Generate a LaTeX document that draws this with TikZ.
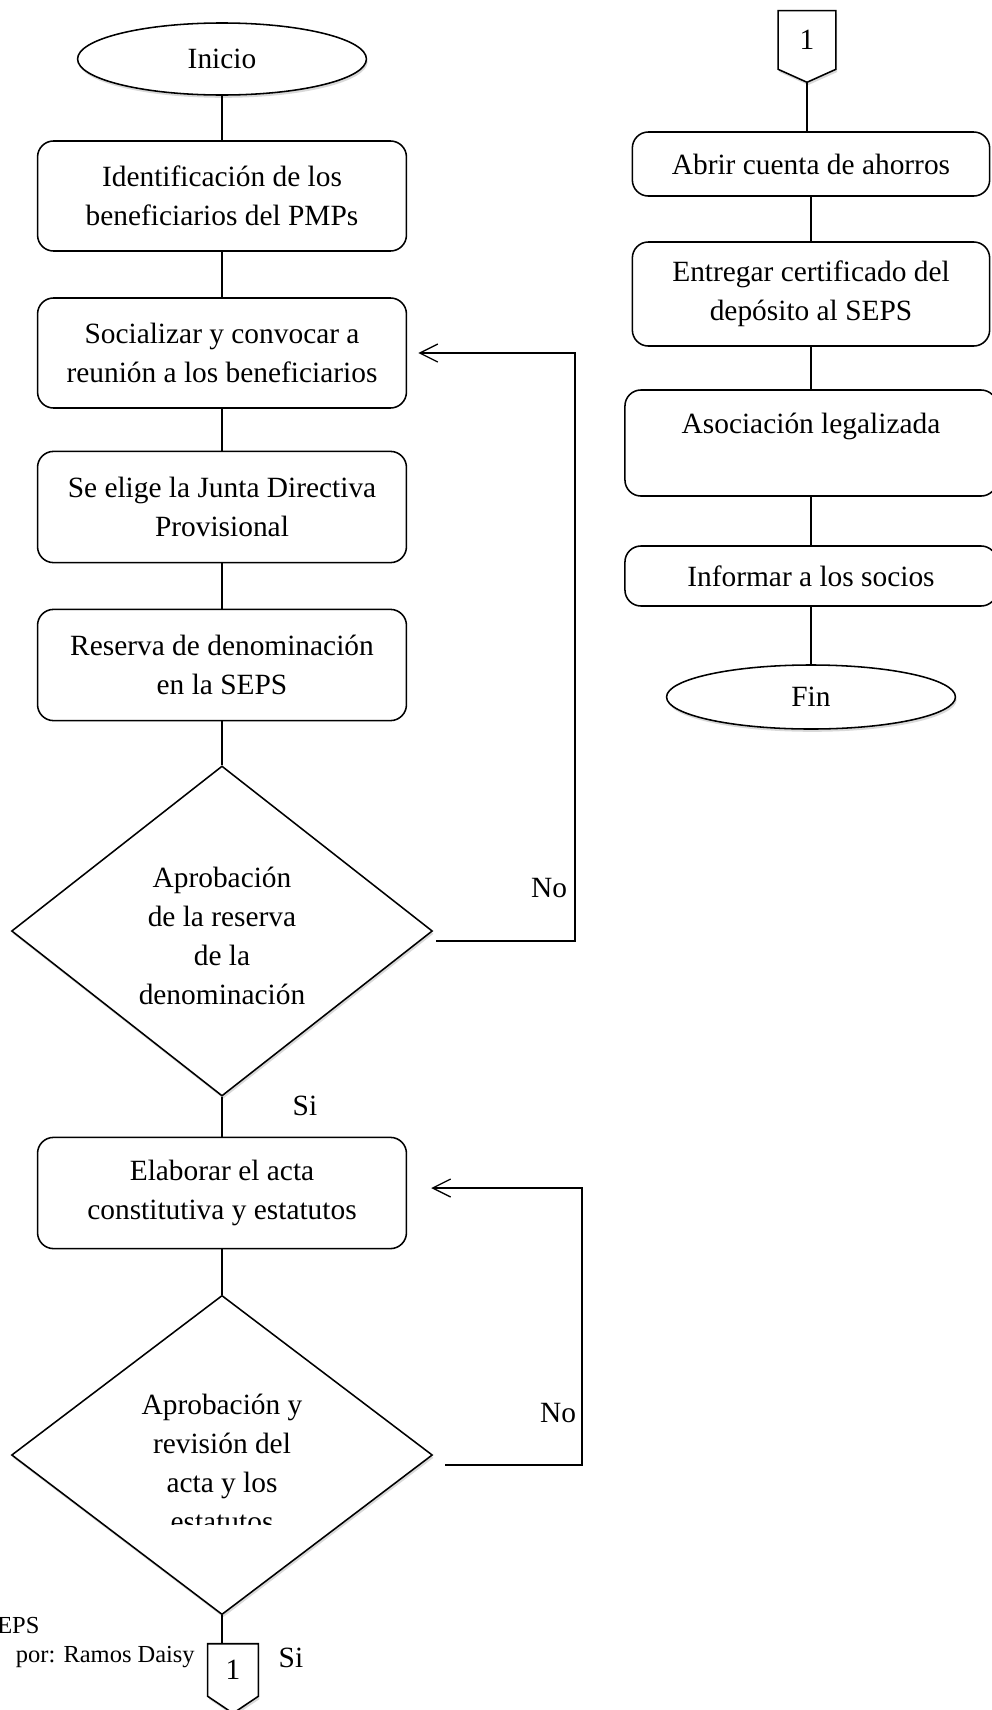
\documentclass[tikz,border=0pt]{standalone}
\usepackage{fontspec}
\setmainfont{Liberation Serif}
\usetikzlibrary{shapes.geometric,arrows.meta,shadows,calc}

\tikzset{
  sombra/.style={drop shadow={shadow xshift=0.03cm,shadow yshift=-0.07cm,opacity=0.3}},
  paso/.style={draw,rounded corners=0.4cm,line width=1.1pt,minimum width=9.22cm,align=center,inner sep=0},
  extremo/.style={draw,ellipse,line width=1.1pt,minimum width=7.22cm,minimum height=1.8cm,fill=white,sombra},
  decision/.style={draw,diamond,line width=1.1pt,minimum width=10.52cm,minimum height=8.25cm,fill=white,sombra},
  conector/.style={draw,line width=1.1pt,fill=white,sombra},
  linea/.style={line width=0.9pt},
  regreso/.style={line width=0.9pt,-{Straight Barb[length=0.45cm,width=0.45cm,line width=0.9pt]}},
  etiqueta/.style={inner sep=0}
}

\begin{document}
\begin{tikzpicture}[x=0.025cm,y=-0.025cm,font=\fontsize{20.9}{27.7}\selectfont]
\useasboundingbox (0,0) rectangle (992,1710);

% Columna izquierda
  \node[extremo] (ini) at (222,59) {Inicio};
  \node[paso,minimum height=2.75cm] (iden) at (222,196) {Identificación de los\\beneficiarios del PMPs};
  \node[paso,minimum height=2.75cm] (soc) at (222,353) {Socializar y convocar a\\reunión a los beneficiarios};
  \node[paso,minimum height=2.78cm] (jun) at (222,507) {Se elige la Junta Directiva\\Provisional};
  \node[paso,minimum height=2.78cm] (res) at (222,665) {Reserva de denominación\\en la SEPS};
  \node[decision] (apr1) at (222,931) {};
  \node[etiqueta,align=center] (apr1t) at (222,936) {Aprobación\\de la reserva\\de la\\denominación};
  \node[paso,minimum height=2.78cm] (ela) at (222,1193) {Elaborar el acta\\constitutiva y estatutos};
  \node[decision,minimum height=7.98cm] (apr2) at (222,1455) {};
  \begin{scope}
    \clip (0,1300) rectangle (992,1524);
    \node[etiqueta,align=center] (apr2t) at (222,1463) {Aprobación y\\revisión del\\acta y los\\estatutos};
  \end{scope}
  \node[etiqueta,minimum width=1.25cm,minimum height=1.3cm] (con1b) at (233,1670) {};
  \draw[conector] (con1b.north west) -- (con1b.north east) -- (con1b.south east)
        -- ($(con1b.south)+(0,17)$) -- (con1b.south west) -- cycle;
  \node[etiqueta] at (con1b) {1};

% Columna derecha
  \node[etiqueta,minimum width=1.43cm,minimum height=1.45cm] (con1a) at (807,40) {};
  \draw[conector] (con1a.north west) -- (con1a.north east) -- (con1a.south east)
        -- ($(con1a.south)+(0,13)$) -- (con1a.south west) -- cycle;
  \node[etiqueta] at (con1a) {1};
  \coordinate (con1a-p) at ($(con1a.south)+(0,13)$);
  \node[paso,minimum width=8.93cm,minimum height=1.6cm] (abr) at (811,164) {Abrir cuenta de ahorros};
  \node[paso,minimum width=8.93cm,minimum height=2.6cm] (ent) at (811,294) {Entregar certificado del\\depósito al SEPS};
  \node[paso,minimum width=9.3cm,minimum height=2.65cm] (aso) at (811,443) {Asociación legalizada\\\mbox{}};
  \node[paso,minimum width=9.3cm,minimum height=1.5cm] (inf) at (811,576) {Informar a los socios};
  \node[extremo,minimum height=1.6cm] (fin) at (811,697) {Fin};

% Conexiones
  \draw[linea] (ini) -- (iden);
  \draw[linea] (iden) -- (soc);
  \draw[linea] (soc) -- (jun);
  \draw[linea] (jun) -- (res);
  \draw[linea] (res) -- (apr1);
  \draw[linea] (apr1) -- (ela);
  \draw[linea] (ela) -- (apr2);
  \draw[linea] (apr2.south) -- (apr2.south |- con1b.north);
  \draw[linea] (con1a-p) -- (con1a-p |- abr.north);
  \draw[linea] (abr) -- (ent);
  \draw[linea] (ent) -- (aso);
  \draw[linea] (aso) -- (inf);
  \draw[linea] (inf) -- (fin);

% Retornos
  \coordinate (vuelta1) at (575,353);
  \draw[regreso] ($(apr1.east)+(3,10)$) -| (vuelta1) -- ([xshift=0.28cm]soc.east);
  \coordinate (vuelta2) at (582,1188);
  \draw[regreso] ($(apr2.east)+(12,10)$) -| (vuelta2) -- ([xshift=0.6cm]ela.east |- vuelta2);
  \node[etiqueta] (no1) at (549,888) {No};
  \node[etiqueta] (si1) at (305,1106) {Si};
  \node[etiqueta] (no2) at (558,1413) {No};
  \node[etiqueta] (si2) at (291,1658) {Si};

% Fuente
  \node[etiqueta,anchor=west,font=\fontsize{17.4}{22}\selectfont] (fte) at (-3,1625) {EPS};
  \node[etiqueta,anchor=east,font=\fontsize{17.4}{22}\selectfont] (aut) at (195,1657) {por: Ramos Daisy};
\end{tikzpicture}
\end{document}
